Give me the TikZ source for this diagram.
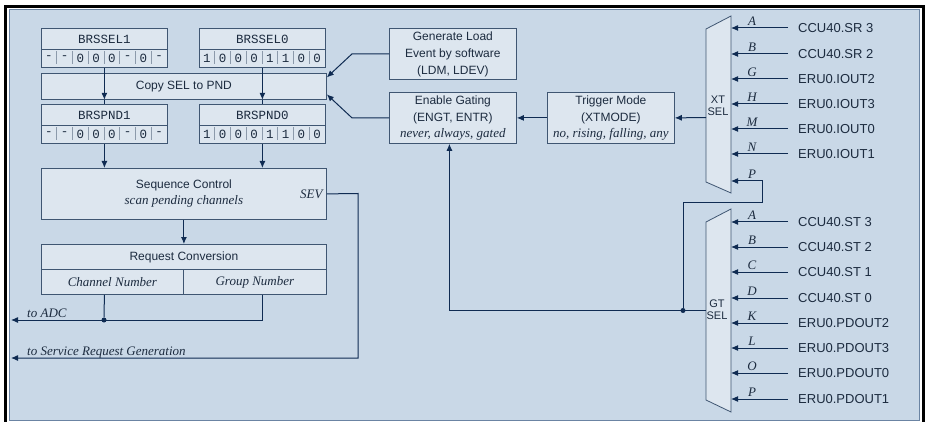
\documentclass[tikz,border=0pt]{standalone}
\usepackage{fontspec}
\setmainfont{Liberation Sans}
\setmonofont{Liberation Mono}
\newfontfamily\tnr{Liberation Serif}
\usetikzlibrary{arrows.meta}
\definecolor{bgc}{HTML}{C9D8E7}
\definecolor{boxf}{HTML}{DDE6EF}
\definecolor{boxc}{HTML}{3F5672}
\definecolor{frmc}{HTML}{6B84A3}
\definecolor{lnc}{HTML}{0F2B52}
\definecolor{txt}{HTML}{1C2B3F}
\definecolor{divc}{HTML}{8C9AAB}
\newcommand{\itf}{\tnr\itshape\fontsize{13}{16}\selectfont}
\newcommand{\sff}{\fontsize{12}{17}\selectfont}
\newcommand{\ttf}{\ttfamily\fontsize{12.5}{13}\selectfont}
\begin{document}
\begin{tikzpicture}[x=1pt,y=-1pt,
  every node/.style={text=txt},
  box/.style={draw=boxc, fill=boxf, line width=0.8pt, inner sep=0pt, anchor=north west, align=center, font=\sff},
  reg/.style={box, minimum width=126pt, minimum height=21pt, font=\ttf},
  bitbox/.style={box, minimum width=126pt, minimum height=18pt},
  bitc/.style={font=\ttf, inner sep=0pt},
  ln/.style={draw=lnc, line width=1pt},
  arr/.style={ln, -{Latex[length=7pt,width=6pt]}},
  sig/.style={anchor=west, inner xsep=10pt, inner ysep=0pt, font=\fontsize{13}{13}\selectfont},
  lab/.style={anchor=base, inner sep=0pt, font=\itf},
  dot/.style={circle, fill=lnc, inner sep=0pt, minimum size=5pt},
  mux/.style={draw=boxc, fill=boxf, line width=0.8pt},
  muxlab/.style={align=center, inner sep=0pt, font=\fontsize{11}{12}\selectfont}
]
\useasboundingbox (0,0) rectangle (926,422);
% frame
\filldraw[fill=bgc, draw=frmc, line width=1.2pt] (9.5,9.5) rectangle (919.5,420.5);
\draw[black, line width=3pt] (5.5,422) -- (5.5,6.5) -- (923.5,6.5) -- (923.5,422);

% registers
\node[reg] (sel1) at (41,28) {BRSSEL1};
\node[bitbox] (sel1b) at (41,49) {};
\node[reg] (sel0) at (199,28) {BRSSEL0};
\node[bitbox] (sel0b) at (199,49) {};
\node[box, minimum width=285pt, minimum height=26pt] (copy) at (41,73) {Copy SEL to PND};
\node[reg] (pnd1) at (41,104) {BRSPND1};
\node[bitbox] (pnd1b) at (41,125) {};
\node[reg] (pnd0) at (199,104) {BRSPND0};
\node[bitbox] (pnd0b) at (199,125) {};

\foreach \c [count=\i] in {-,-,0,0,0,-,0,-} {
  \node[bitc] (sa\i) at ({41+\i*15.75-7.875},58) {\c};
  \node[bitc] (pa\i) at ({41+\i*15.75-7.875},134) {\c};
}
\foreach \c [count=\i] in {1,0,0,0,1,1,0,0} {
  \node[bitc] (sb\i) at ({199+\i*15.75-7.875},58) {\c};
  \node[bitc] (pb\i) at ({199+\i*15.75-7.875},134) {\c};
}
\foreach \i in {1,...,7} {
  \draw[divc, line width=0.8pt] ({41+\i*15.75},51.5) -- ({41+\i*15.75},64.5);
  \draw[divc, line width=0.8pt] ({199+\i*15.75},51.5) -- ({199+\i*15.75},64.5);
  \draw[divc, line width=0.8pt] ({41+\i*15.75},127.5) -- ({41+\i*15.75},140.5);
  \draw[divc, line width=0.8pt] ({199+\i*15.75},127.5) -- ({199+\i*15.75},140.5);
}

% sequence control etc.
\node[box, minimum width=285pt, minimum height=51pt] (seq) at (41,168)
  {Sequence Control\\[-1pt]{\itf scan pending channels}};
\node[anchor=east, inner sep=0pt, font=\itf] (sev) at ([xshift=-4pt]seq.east) {SEV};
\node[box, minimum width=285pt, minimum height=25pt] (rq) at (41,244) {Request Conversion};
\node[box, minimum width=142pt, minimum height=25pt, font=\itf] (ch) at (41,269) {Channel Number};
\node[box, minimum width=143pt, minimum height=25pt, font=\itf] (gr) at (183,269) {Group Number};

% vertical arrows left
\draw[arr] (sel1b.south) -- (sel1b.south |- copy.south);
\draw[ln] (sel1b.south |- copy.south) -- (pnd1.north);
\draw[arr] (sel0b.south) -- (sel0b.south |- copy.south);
\draw[ln] (sel0b.south |- copy.south) -- (pnd0.north);
\draw[arr] (pnd1b.south) -- (pnd1b.south |- seq.north);
\draw[arr] (pnd0b.south) -- (pnd0b.south |- seq.north);
\draw[arr] (seq.south) -- (rq.north);

% outputs
\coordinate (adc) at (11,320);
\coordinate (srg) at (11,358);
\node[dot] (jadc) at (104,320) {};
\draw[ln] (ch.south -| pnd1b.south) -- (jadc);
\draw[arr] (gr.south -| pnd0b.south) -- (pnd0b.south |- adc) -- (adc);
\node[anchor=base west, inner sep=0pt, font=\itf] (tadc) at (27,317) {to ADC};
\draw[arr] (seq.east) -- (358,193.5) -- (358,358) -- (srg);
\node[anchor=base west, inner sep=0pt, font=\itf] (tsrg) at (27,355) {to Service Request Generation};

% right boxes
\node[box, minimum width=127pt, minimum height=51pt] (gen) at (389,28)
  {Generate Load\\Event by software\\(LDM, LDEV)};
\node[box, minimum width=127pt, minimum height=51pt] (gate) at (389,92)
  {Enable Gating\\(ENGT, ENTR)\\[-1pt]{\itf never, always, gated}};
\node[box, minimum width=127pt, minimum height=51pt] (trig) at (547,92)
  {Trigger Mode\\(XTMODE)\\[-1pt]{\itf no, rising, falling, any}};

\coordinate (cpin1) at ([yshift=9pt]copy.east);
\coordinate (cpin2) at ([yshift=-8pt]copy.east);
\draw[arr] (gen.west) -- ++(-37,0) -- (cpin1);
\draw[arr] (gate.west) -- ++(-37,0) -- (cpin2);
\draw[arr] (trig.west) -- (gate.east);

% XT SEL
\draw[mux] (706,29) -- (731,16) -- (731,193) -- (706,182) -- cycle;
\node[muxlab] (xtlab) at (718,106) {XT\\SEL};
\coordinate (xtout) at (706,117.5);
\draw[arr] (xtout) -- (trig.east);
\foreach \yy/\ll/\ss [count=\i] in {28/A/CCU40.SR 3, 54/B/CCU40.SR 2, 79/G/ERU0.IOUT2, 104/H/ERU0.IOUT3, 129/M/ERU0.IOUT0, 154/N/ERU0.IOUT1} {
  \coordinate (xti\i) at (731,\yy);
  \node[sig] (xs\i) at (788,\yy) {\ss};
  \draw[arr] (xs\i.west) -- (xti\i);
  \node[lab] (xl\i) at (752,\yy-2.5) {\ll};
}
\coordinate (xtP) at (731,181);
\node[lab] (xlP) at (752,178.5) {P};

% GT SEL
\draw[mux] (706,222) -- (731,209) -- (731,412) -- (706,400) -- cycle;
\node[muxlab] (gtlab) at (717,310) {GT\\SEL};
\foreach \yy/\ll/\ss [count=\i] in {222/A/CCU40.ST 3, 247/B/CCU40.ST 2, 272/C/CCU40.ST 1, 298/D/CCU40.ST 0, 323/K/ERU0.PDOUT2, 348/L/ERU0.PDOUT3, 373/O/ERU0.PDOUT0, 399/P/ERU0.PDOUT1} {
  \coordinate (gti\i) at (731,\yy);
  \node[sig] (gs\i) at (788,\yy) {\ss};
  \draw[arr] (gs\i.west) -- (gti\i);
  \node[lab] (gl\i) at (752,\yy-2.5) {\ll};
}
\coordinate (gtout) at (706,310.5);
\node[dot] (gtj) at (683,310.5) {};
\draw[arr] (gtout) -| ([xshift=-3.5pt]gate.south);
\draw[arr] (gtj) -- (683,203) -- (762,203) -- (762,181) -- (xtP);
\end{tikzpicture}
\end{document}
